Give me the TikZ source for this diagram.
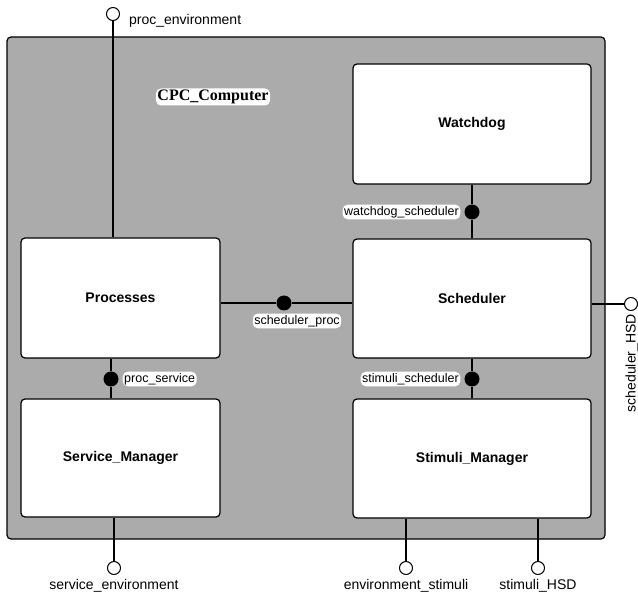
\documentclass[tikz,border=0pt]{standalone}
\usepackage{fontspec}
\setmainfont{Liberation Sans}
\newfontfamily\titlefont{Liberation Serif}
\usetikzlibrary{positioning}

\tikzset{
  comp/.style={draw, line width=1.2pt, fill=white, rounded corners=4pt, font=\fontsize{14}{16}\selectfont\bfseries},
  port/.style={draw, circle, line width=1pt, fill=white, minimum size=13pt, inner sep=0pt},
  conn/.style={circle, fill=black, minimum size=15pt, inner sep=0pt},
  plabel/.style={font=\fontsize{14}{16}\selectfont, inner sep=1.5pt},
  tag/.style={font=\fontsize{12.5}{14}\selectfont, inner sep=1.5pt, fill=white, rounded corners=5pt},
}

\begin{document}
\begin{tikzpicture}[x=1pt, y=-1pt, line width=1.2pt]
	\useasboundingbox (0,0) rectangle (638,596);
	
	% CPC_Computer
	\draw[fill=black!33, rounded corners=4pt] (7,37) rectangle (605,539);
	\node[tag, font=\titlefont\fontsize{16}{18}\selectfont\bfseries] (cpc) at (213,97) {CPC\_Computer};
	
	% Componentes
	\node[comp, minimum width=199pt, minimum height=120pt] (proc) at (120.5,298) {Processes};
	\node[comp, minimum width=199pt, minimum height=118pt] (serv) at (120.5,458) {Service\_Manager};
	\node[comp, minimum width=238pt, minimum height=120pt] (watch) at (472,124) {Watchdog};
	\node[comp, minimum width=238pt, minimum height=119pt] (sched) at (472,298.5) {Scheduler};
	\node[comp, minimum width=238pt, minimum height=119pt] (stim) at (472,458.5) {Stimuli\_Manager};
	
	% Conexiones internas
	\node[conn] (ws) at (472,212) {};
	\node[tag, left=3pt of ws] (wslab) {watchdog\_scheduler};
	\node[conn] (sp) at (284,303) {};
	\node[tag, anchor=north] (splab) at (297,313) {scheduler\_proc};
	\node[conn] (ps) at (111,379) {};
	\node[tag, right=3pt of ps] (pslab) {proc\_service};
	\node[conn] (ss) at (472,379) {};
	\node[tag, left=3pt of ss] (sslab) {stimuli\_scheduler};
	
	\draw (watch.south) -- (ws) -- (sched.north);
	\draw (proc.east |- sp) -- (sp) -- (sched.west |- sp);
	\draw (ps |- proc.south) -- (ps) -- (ps |- serv.north);
	\draw (sched.south) -- (ss) -- (stim.north);
	
	% Puertos externos
	\node[port] (penv) at (113,14) {};
	\node[plabel, anchor=west] (penvlab) at (127,21) {proc\_environment};
	\node[port] (senv) at (114,568) {};
	\node[plabel, below=2pt of senv] (senvlab) {service\_environment};
	\node[port] (estim) at (406,568) {};
	\node[plabel, below=2pt of estim] (estimlab) {environment\_stimuli};
	\node[port] (shsd) at (538,568) {};
	\node[plabel, below=2pt of shsd] (shsdlab) {stimuli\_HSD};
	\node[port] (schsd) at (631,304) {};
	\node[plabel, rotate=90, anchor=east] (schsdlab) at (632,312) {scheduler\_HSD};
	
	\draw (penv) -- (penv |- proc.north);
	\draw (serv.south -| senv) -- (senv);
	\draw (stim.south -| estim) -- (estim);
	\draw (stim.south -| shsd) -- (shsd);
	\draw (sched.east |- schsd) -- (schsd);
\end{tikzpicture}
\end{document}
